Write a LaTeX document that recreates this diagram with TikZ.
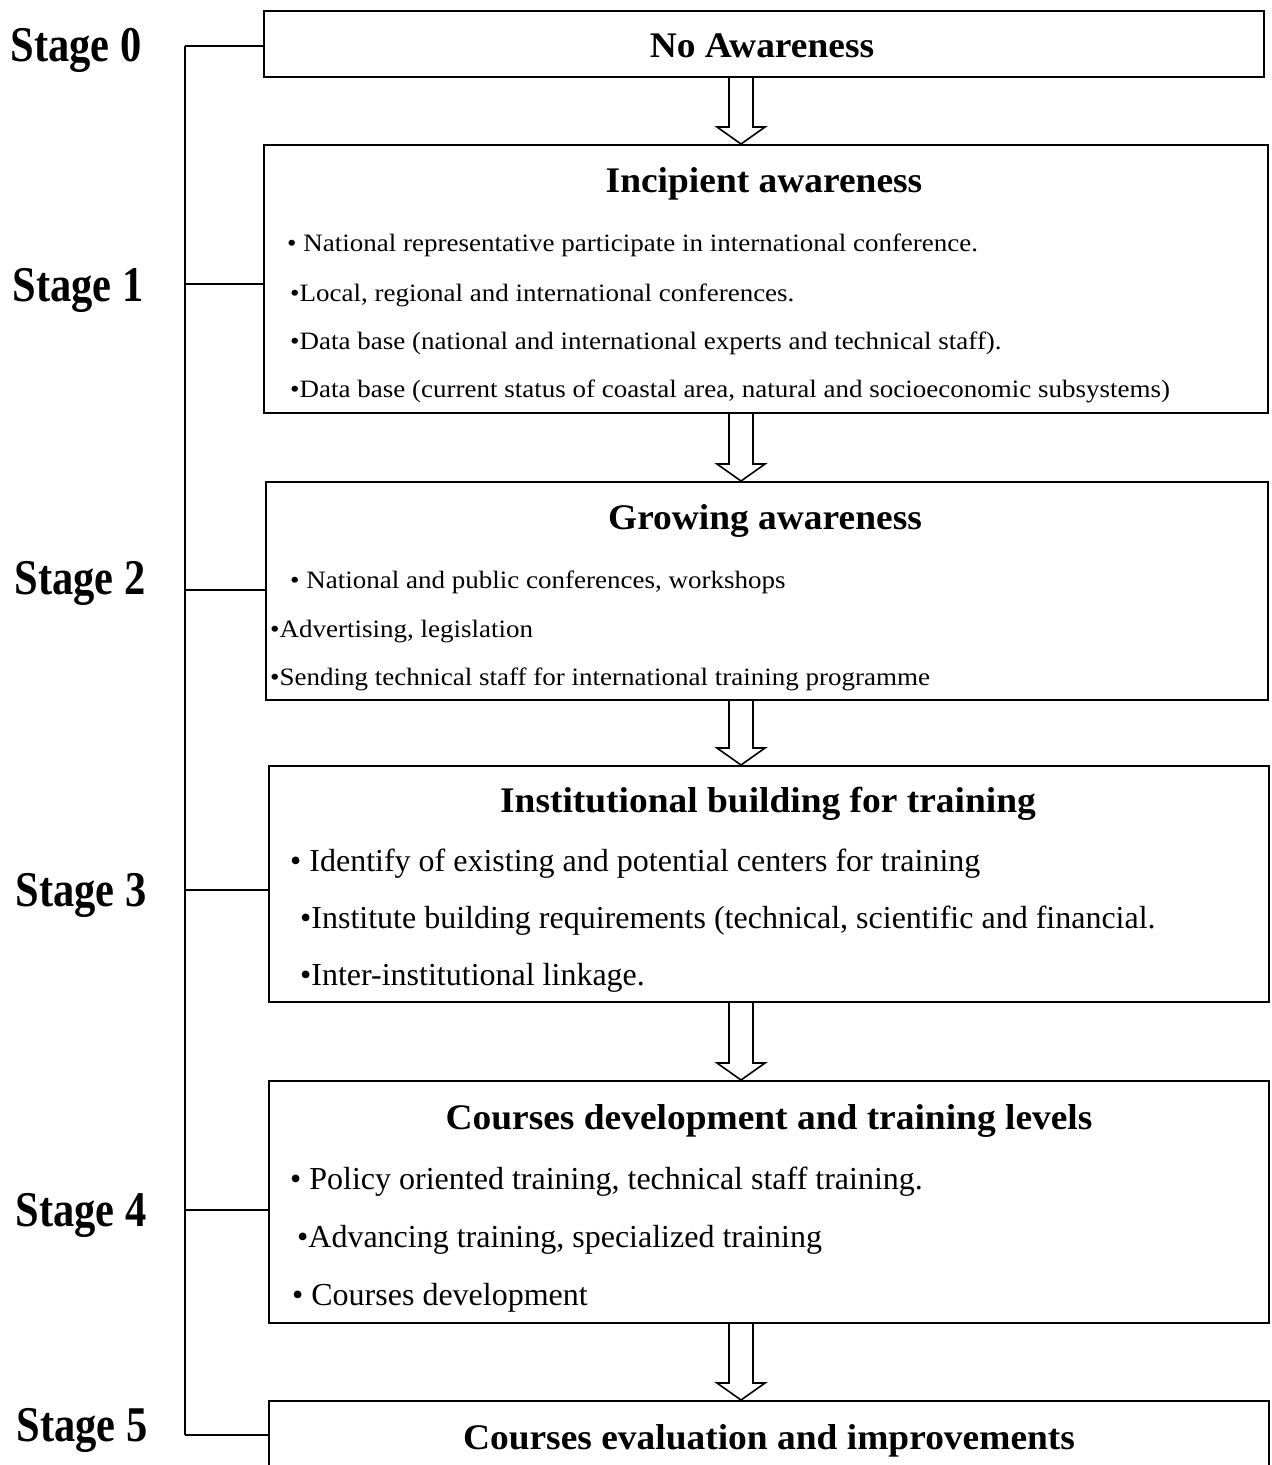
\documentclass[tikz,border=0pt]{standalone}
\usepackage{fontspec}
\setmainfont{Liberation Serif}
\newfontfamily\narrowserif[FakeStretch=0.85]{Liberation Serif}
\newfontfamily\titleserif[FakeStretch=1.04]{Liberation Serif}
\newfontfamily\wideserif[FakeStretch=1.08]{Liberation Serif}
\usetikzlibrary{calc}

\tikzset{
  stagebox/.style={draw,line width=1.6pt,anchor=north west,inner sep=0pt},
  stagelabel/.style={anchor=mid,inner sep=0pt,yshift=-14pt,font=\narrowserif\bfseries\fontsize{50}{50}\selectfont},
  boxtitle/.style={anchor=mid,inner sep=0pt,yshift=-10pt,font=\titleserif\bfseries\fontsize{36}{36}\selectfont},
  itemsmall/.style={anchor=mid west,inner sep=0pt,yshift=-7pt,font=\wideserif\fontsize{25}{25}\selectfont},
  itemlarge/.style={anchor=mid west,inner sep=0pt,yshift=-9pt,font=\fontsize{32}{32}\selectfont},
  link/.style={line width=1.4pt},
  hollowdown/.style={line width=1.6pt,line join=miter,
    to path={let \p1=(\tikztostart),\p2=(\tikztotarget) in
      (\x1-12pt,\y1) -- (\x1-12pt,\y2+17pt) -- (\x1-24pt,\y2+17pt) -- (\x1,\y2)
      -- (\x1+24pt,\y2+17pt) -- (\x1+12pt,\y2+17pt) -- (\x1+12pt,\y1)}}
}

\begin{document}
\begin{tikzpicture}[x=1pt,y=-1pt]
  \clip (0,0) rectangle (1272,1465);

  % boxes
  \node[stagebox,minimum width=1000pt,minimum height=66pt] (aw0) at (263,10) {};
  \node[stagebox,minimum width=1004pt,minimum height=268pt] (aw1) at (263,144) {};
  \node[stagebox,minimum width=1002pt,minimum height=218pt] (aw2) at (265,481) {};
  \node[stagebox,minimum width=1000pt,minimum height=236pt] (aw3) at (268,765) {};
  \node[stagebox,minimum width=1000pt,minimum height=242pt] (aw4) at (268,1080) {};
  \node[stagebox,minimum width=1000pt,minimum height=120pt] (aw5) at (268,1400) {};

  % titles
  \node[boxtitle] (ttl0) at (762,45) {No Awareness};
  \node[boxtitle] (ttl1) at (764,180) {Incipient awareness};
  \node[boxtitle] (ttl2) at (765,517) {Growing awareness};
  \node[boxtitle] (ttl3) at (768,800) {Institutional building for training};
  \node[boxtitle] (ttl4) at (769,1117) {Courses development and training levels};
  \node[boxtitle] (ttl5) at (769,1437) {Courses evaluation and improvements};

  % items
  \node[itemsmall] (i11) at (287,242) {• National representative participate in international conference.};
  \node[itemsmall] (i12) at (290,292) {•Local, regional and international conferences.};
  \node[itemsmall] (i13) at (290,340) {•Data base (national and international experts and technical staff).};
  \node[itemsmall] (i14) at (290,388) {•Data base (current status of coastal area, natural and socioeconomic subsystems)};

  \node[itemsmall] (i21) at (290,579) {• National and public conferences, workshops};
  \node[itemsmall] (i22) at (270,628) {•Advertising, legislation};
  \node[itemsmall] (i23) at (270,676) {•Sending technical staff for international training programme};

  \node[itemlarge] (i31) at (290,860) {• Identify of existing and potential centers for training};
  \node[itemlarge] (i32) at (300,917) {•Institute building requirements (technical, scientific and financial.};
  \node[itemlarge] (i33) at (300,974) {•Inter-institutional linkage.};

  \node[itemlarge] (i41) at (290,1178) {• Policy oriented training, technical staff training.};
  \node[itemlarge] (i42) at (297,1236) {•Advancing training, specialized training};
  \node[itemlarge] (i43) at (292,1294) {• Courses development};

  % stage labels and spine
  \foreach \k/\lx/\ly in {0/76/45,1/78/285,2/80/578,3/81/890,4/81/1210,5/82/1425}
    \node[stagelabel] (stg\k) at (\lx,\ly) {Stage \k};
  \foreach \k/\yy in {0/46,1/284,2/590,3/890,4/1210,5/1435} {
    \coordinate (jn\k) at (185,\yy);
    \draw[link] (jn\k) -- (jn\k -| aw\k.west);
  }
  \draw[link] (jn0) -- (jn5);

  % hollow arrows
  \coordinate (ax) at (741,0);
  \foreach \a/\b in {0/1,1/2,2/3,3/4,4/5}
    \draw[hollowdown] (aw\a.south -| ax) to (aw\b.north -| ax);
\end{tikzpicture}
\end{document}
